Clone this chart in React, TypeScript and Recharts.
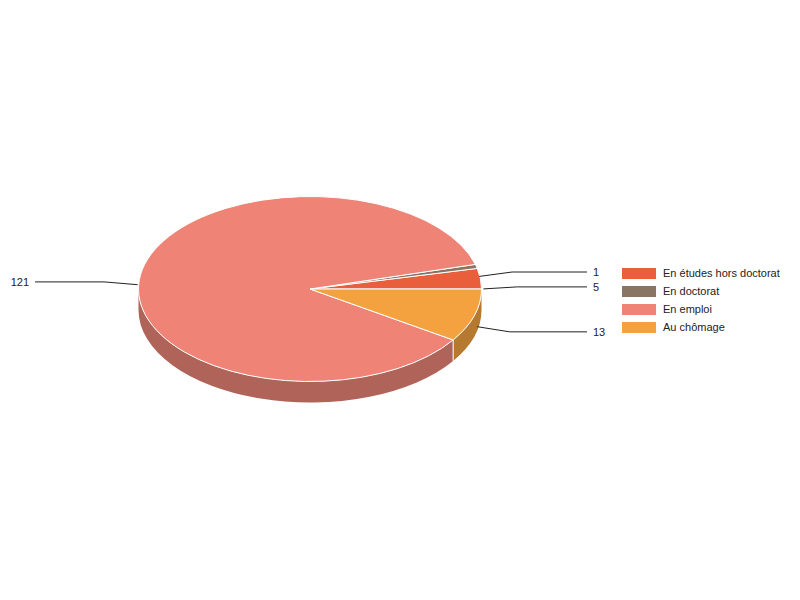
import React from 'react';
import { PieChart, Pie, Legend } from 'recharts';

// ── data ────────────────────────────────────────────────────────────────
const CATEGORIES = ['En études hors doctorat', 'En doctorat', 'En emploi', 'Au chômage'];
const VALUES = [5, 1, 121, 13];
const TOP_COLORS = ['#E95E3B', '#8A7565', '#EE8376', '#F4A140'];
const SIDE_COLORS = ['#A8432A', '#625348', '#B06459', '#B57A2F'];

// ── geometry of the tilted pie ──────────────────────────────────────────
const CX = 310;
const CY = 289;
const RX = 171.5;
const RY = 92.5;
const DEPTH = 21;
const LABEL_GAP = 20; // label ring sits this far outside the rim
const FONT = '"Liberation Sans", Arial, sans-serif';

const pieData = CATEGORIES.map((name, i) => ({
    name,
    value: VALUES[i],
    fill: TOP_COLORS[i],
    side: SIDE_COLORS[i],
}));

const rad = (a: number) => (a * Math.PI) / 180;
const pt = (cx: number, cy: number, rx: number, ry: number, a: number) =>
    [cx + rx * Math.cos(rad(a)), cy - ry * Math.sin(rad(a))];

// label layout: anchor on the rim (half depth down), label on an outer ring, then resolve overlaps
const total = VALUES.reduce((s, v) => s + v, 0);
const labelLayout = (() => {
    let acc = 0;
    const items = VALUES.map((v, i) => {
        const start = (acc / total) * 360;
        acc += v;
        const end = (acc / total) * 360;
        const mid = (start + end) / 2;
        const [ax, ay0] = pt(CX, CY, RX + 3, RY + 2, mid);
        const [bx, by0] = pt(CX, CY, RX + 37, RY + LABEL_GAP, mid);
        return { i, ax, ay: ay0 + DEPTH / 2, bx, y: by0 + DEPTH / 2, right: Math.cos(rad(mid)) >= 0 };
    });
    [true, false].forEach((right) => {
        const group = items.filter((d) => d.right === right).sort((a, b) => a.y - b.y);
        for (let k = group.length - 2; k >= 0; k--) {
            if (group[k].y > group[k + 1].y - 14) group[k].y = group[k + 1].y - 14;
        }
    });
    return items;
})();

const SliceShape = (props: any) => {
    const { cx, cy, outerRadius, startAngle, endAngle, fill } = props;
    const side = props.side ?? props.payload?.side ?? fill;
    const rx = outerRadius;
    const ry = (outerRadius * RY) / RX;
    const s = Math.min(startAngle, endAngle);
    const e = Math.max(startAngle, endAngle);
    const [sx, sy] = pt(cx, cy, rx, ry, s);
    const [ex, ey] = pt(cx, cy, rx, ry, e);
    const large = e - s > 180 ? 1 : 0;
    const top = `M${cx},${cy} L${sx},${sy} A${rx},${ry} 0 ${large} 0 ${ex},${ey} Z`;

    const lo = Math.max(s, 180);
    const hi = Math.min(e, 360);
    let sidePath = '';
    if (hi > lo) {
        const [lx, ly] = pt(cx, cy, rx, ry, lo);
        const [hx, hy] = pt(cx, cy, rx, ry, hi);
        sidePath = `M${lx},${ly} A${rx},${ry} 0 0 0 ${hx},${hy} L${hx},${hy + DEPTH} A${rx},${ry} 0 0 1 ${lx},${ly + DEPTH} Z`;
    }
    return (
        <g>
            {sidePath && <path d={sidePath} fill={side} stroke="none" />}
            {s > 180 && s < 360 && (
                <line x1={sx} y1={sy} x2={sx} y2={sy + DEPTH} stroke="#fff" strokeWidth={1} />
            )}
            <path d={top} fill={fill} stroke="#fff" strokeWidth={1} />
        </g>
    );
};

const renderLabel = (props: any) => {
    const d = labelLayout[props.index];
    if (!d) return null;
    const endX = d.right ? 587 : 35;
    const textX = d.right ? 593 : 29;
    return (
        <g key={`lbl-${props.index}`}>
            <polyline
                points={`${d.ax},${d.ay} ${d.bx},${d.y} ${endX},${d.y}`}
                fill="none"
                stroke="#222"
                strokeWidth={1}
            />
            <text
                x={textX}
                y={d.y}
                textAnchor={d.right ? 'start' : 'end'}
                dominantBaseline="central"
                fontFamily={FONT}
                fontSize={11}
                fill="#222"
            >
                {VALUES[props.index]}
            </text>
        </g>
    );
};

const LegendContent = () => (
    <div style={{ fontFamily: FONT, fontSize: 11, color: '#222' }}>
        {CATEGORIES.map((name, i) => (
            <div key={name} style={{ display: 'flex', alignItems: 'center', height: 18 }}>
                <div style={{ width: 34, height: 11, background: TOP_COLORS[i], marginRight: 7 }} />
                <span>{name}</span>
            </div>
        ))}
    </div>
);

export default function App() {
    return (
        <div style={{ position: 'absolute', left: 0, top: 0, width: 800, height: 600, background: '#fff' }}>
            <PieChart width={800} height={600} margin={{ top: 0, right: 0, bottom: 0, left: 0 }}>
                <Pie
                    data={pieData}
                    dataKey="value"
                    nameKey="name"
                    cx={CX}
                    cy={CY}
                    innerRadius={0}
                    outerRadius={RX}
                    startAngle={0}
                    endAngle={360}
                    paddingAngle={0}
                    stroke="#fff"
                    isAnimationActive={false}
                    shape={SliceShape}
                    activeShape={SliceShape}
                    inactiveShape={SliceShape}
                    label={renderLabel}
                    labelLine={false}
                />
                <Legend
                    content={<LegendContent />}
                    wrapperStyle={{ position: 'absolute', left: 622, top: 264, width: 170, height: 80 }}
                />
            </PieChart>
        </div>
    );
}
